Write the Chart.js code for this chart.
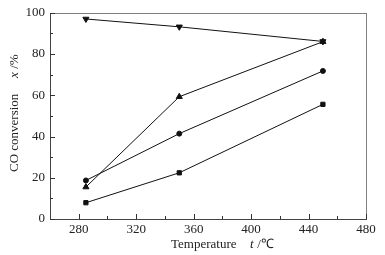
<!DOCTYPE html>
<html>
<head>
<meta charset="utf-8">
<script src="https://cdn.jsdelivr.net/npm/chart.js@4.4.1/dist/chart.umd.min.js"></script>
<style>
  html, body { margin: 0; padding: 0; background: #fff; }
  #wrap { width: 385px; height: 255px; position: relative; }
</style>
</head>
<body>
<div id="wrap"><canvas id="chart"></canvas></div>
<script>
// Temperature (°C) of each measurement
const temperatures = [285, 350, 450];

// CO conversion x/% per catalyst series
const seriesDown = [97, 93.2, 86.1];
const seriesUp = [15.5, 59.3, 86];
const seriesCircle = [18.7, 41.4, 71.8];
const seriesSquare = [7.9, 22.4, 55.6];

// Axis ticks
const xTicks = [280, 320, 360, 400, 440, 480];
const xMinor = [300, 340, 380, 420, 460];
const yTicks = [0, 20, 40, 60, 80, 100];
const yMinor = [10, 30, 50, 70, 90];

const FONT = '"Liberation Serif", "Times New Roman", serif';

function toPoints(values) {
  return temperatures.map((t, i) => ({ x: t, y: values[i] }));
}

function makeSet(values, style, rotation, radius) {
  return {
    data: toPoints(values),
    borderColor: '#111',
    backgroundColor: '#111',
    borderWidth: 1,
    pointStyle: style,
    pointRotation: rotation,
    pointRadius: radius,
    pointBorderWidth: 1,
    tension: 0
  };
}

// Draws inward ticks, the frame and the axis titles
const framePlugin = {
  id: 'frame',
  afterDraw(chart) {
    const ctx = chart.ctx;
    const a = chart.chartArea;
    const xs = chart.scales.x;
    const ys = chart.scales.y;
    const L = Math.round(a.left), R = Math.round(a.right);
    const T = Math.round(a.top), B = Math.round(a.bottom);
    ctx.save();
    // frame: grey top/right, darker left/bottom
    ctx.fillStyle = '#808080';
    ctx.fillRect(L, T, R - L + 1, 1);
    ctx.fillRect(R, T, 1, B - T + 1);
    ctx.fillStyle = '#444';
    ctx.fillRect(L, T, 1, B - T + 1);
    ctx.fillRect(L, B, R - L + 1, 1);

    // inward ticks
    ctx.fillStyle = '#333';
    xTicks.forEach(v => ctx.fillRect(Math.round(xs.getPixelForValue(v)), B - 5, 1, 5));
    xMinor.forEach(v => ctx.fillRect(Math.round(xs.getPixelForValue(v)), B - 3, 1, 3));
    yTicks.forEach(v => ctx.fillRect(L, Math.round(ys.getPixelForValue(v)), 5, 1));
    yMinor.forEach(v => ctx.fillRect(L, Math.round(ys.getPixelForValue(v)), 3, 1));

    ctx.fillStyle = '#222';
    ctx.textBaseline = 'middle';
    // x title
    ctx.textAlign = 'left';
    ctx.font = '13px ' + FONT;
    ctx.fillText('Temperature', 171, 245);
    ctx.font = 'italic 13px ' + FONT;
    ctx.fillText('t', 250, 245);
    ctx.font = '13px ' + FONT;
    ctx.fillText(' /\u2103', 254, 245);

    // y title
    ctx.translate(15, 172);
    ctx.rotate(-Math.PI / 2);
    ctx.font = '13px ' + FONT;
    ctx.fillText('CO conversion', 0, 0);
    ctx.font = 'italic 13px ' + FONT;
    ctx.fillText('x', 94, 0);
    ctx.font = '13px ' + FONT;
    ctx.fillText(' /%', 100, 0);
    ctx.restore();
  }
};

new Chart(document.getElementById('chart'), {
  type: 'line',
  data: {
    datasets: [
      makeSet(seriesDown, 'triangle', 180, 3.5),
      makeSet(seriesUp, 'triangle', 0, 3.5),
      makeSet(seriesCircle, 'circle', 0, 2.5),
      makeSet(seriesSquare, 'rect', 0, 3)
    ]
  },
  options: {
    responsive: true,
    maintainAspectRatio: false,
    animation: false,
    layout: { padding: { top: 12, right: 19, left: 0, bottom: 0 } },
    plugins: { legend: { display: false }, tooltip: { enabled: false } },
    scales: {
      x: {
        type: 'linear',
        min: 260,
        max: 480,
        afterBuildTicks: scale => { scale.ticks = xTicks.map(v => ({ value: v })); },
        afterFit: scale => { scale.height = 36; },
        grid: { display: false, drawTicks: false, tickLength: 0 },
        border: { display: false },
        ticks: { padding: 3, color: '#222', font: { family: FONT, size: 13 }, maxRotation: 0 }
      },
      y: {
        min: 0,
        max: 100,
        afterBuildTicks: scale => { scale.ticks = yTicks.map(v => ({ value: v })); },
        afterFit: scale => { scale.width = 50; },
        grid: { display: false, drawTicks: false, tickLength: 0 },
        border: { display: false },
        ticks: { padding: 5, color: '#222', font: { family: FONT, size: 13 } }
      }
    }
  },
  plugins: [framePlugin]
});
</script>
</body>
</html>
